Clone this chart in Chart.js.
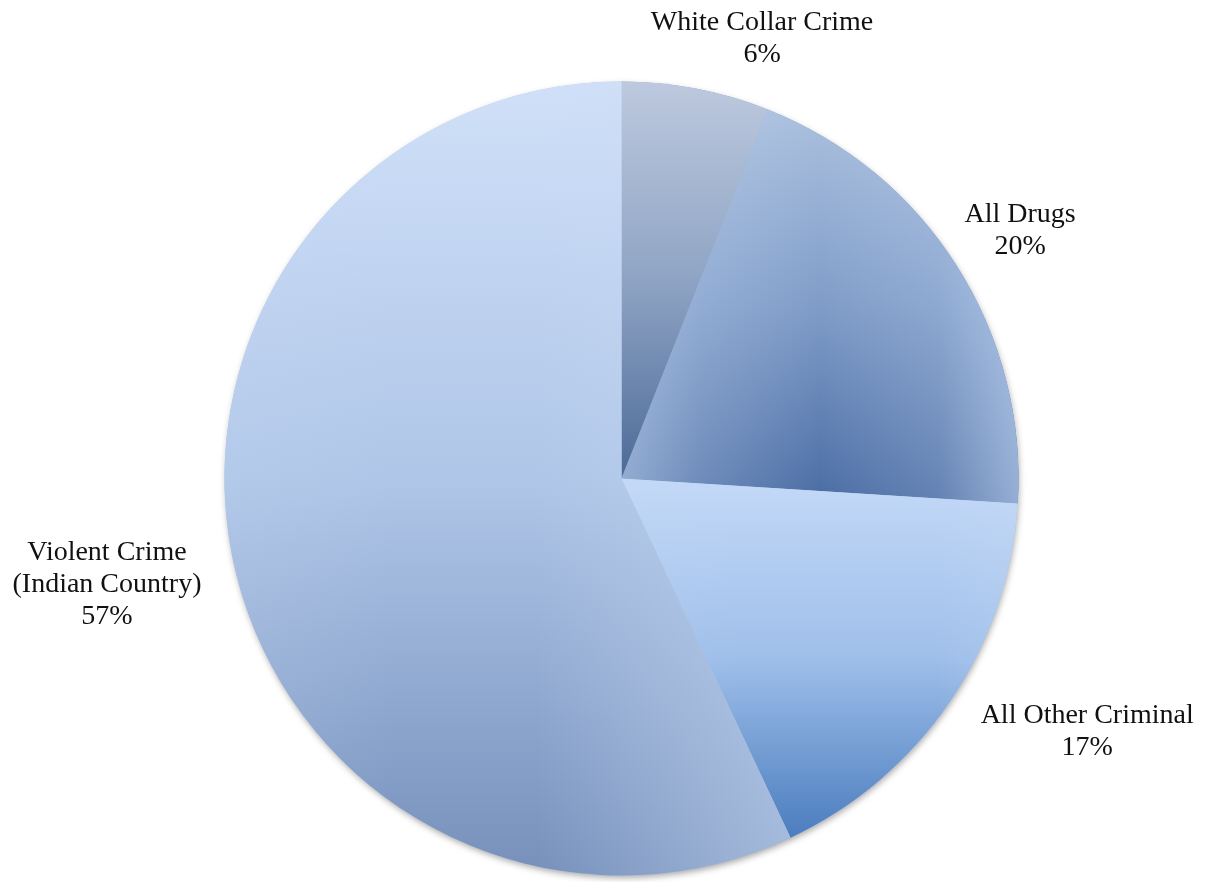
<!DOCTYPE html>
<html>
<head>
<meta charset="utf-8">
<script src="https://cdn.jsdelivr.net/npm/chart.js@4/dist/chart.umd.min.js"></script>
<style>
  html, body { margin: 0; padding: 0; background: #ffffff; }
  #wrap { width: 1206px; height: 882px; position: relative; }
</style>
</head>
<body>
<div id="wrap"><canvas id="pie" width="1206" height="882"></canvas></div>
<script>
// Caseload by program category (share of total, %)
const categories = ['White Collar Crime', 'All Drugs', 'All Other Criminal', 'Violent Crime (Indian Country)'];
const labelLines = [['White Collar Crime'], ['All Drugs'], ['All Other Criminal'], ['Violent Crime', '(Indian Country)']];
const shares = [6, 20, 17, 57];

// Flat fallback colours, one per slice
const baseColors = ['#8fa4c3', '#7f9cc8', '#9fbfea', '#afc6e8'];

// Per-slice shading: vertical colour ramp across the slice's bounding box,
// plus a horizontal light-blue sheen (alpha stops) across the same box.
const shading = [
  { v: [[0, '#bdc9de'], [0.5, '#8fa4c4'], [1, '#4c6a97']], h: [[0, 0], [1, 0]] },
  { v: [[0, '#abc0de'], [0.5, '#7f9cc8'], [1, '#4a6ca3']], h: [[0, 0.55], [0.2, 0.25], [0.5, 0], [0.8, 0.2], [1, 0.6]] },
  { v: [[0, '#c3d9f7'], [0.5, '#9fbfea'], [1, '#4b7dbe']], h: [[0, 0.1], [0.3, 0], [0.8, 0], [1, 0.25]] },
  { v: [[0, '#d0e0f8'], [0.5, '#afc6e8'], [1, '#7690bb']], h: [[0, 0.18], [0.3, 0], [0.55, 0], [1, 0.55]] }
];
const sheenRGB = '200,218,244';

// Label block anchors, in units of the pie radius from its centre (first baseline)
const labelAnchors = [[0.354, -1.130], [1.004, -0.646], [1.173, 0.616], [-1.296, 0.205]];
const labelFont = '28px "Liberation Serif", "Times New Roman", serif';
const lineGap = 32;

function arcBox(x, y, r, a0, a1) {
  const xs = [x, x + r * Math.cos(a0), x + r * Math.cos(a1)];
  const ys = [y, y + r * Math.sin(a0), y + r * Math.sin(a1)];
  const k0 = Math.ceil(a0 / (Math.PI / 2));
  for (let k = k0; k * Math.PI / 2 < a1; k++) {
    const a = k * Math.PI / 2;
    xs.push(x + r * Math.cos(a));
    ys.push(y + r * Math.sin(a));
  }
  return { x0: Math.min(...xs), x1: Math.max(...xs), y0: Math.min(...ys), y1: Math.max(...ys) };
}

const shadePlugin = {
  id: 'shade',
  beforeDatasetDraw(chart) {
    const arcs = chart.getDatasetMeta(0).data;
    if (!arcs.length) return;
    const { x, y, outerRadius } = arcs[0].getProps(['x', 'y', 'outerRadius'], true);
    const ctx = chart.ctx;
    ctx.save();
    ctx.shadowColor = 'rgba(0,0,0,0.38)';
    ctx.shadowBlur = 7;
    ctx.shadowOffsetX = 1;
    ctx.shadowOffsetY = 3;
    ctx.fillStyle = '#ffffff';
    ctx.beginPath();
    ctx.arc(x, y, outerRadius - 1, 0, Math.PI * 2);
    ctx.fill();
    ctx.restore();
  },
  afterDatasetDraw(chart) {
    const ctx = chart.ctx;
    chart.getDatasetMeta(0).data.forEach((arc, i) => {
      const p = arc.getProps(['x', 'y', 'startAngle', 'endAngle', 'outerRadius'], true);
      const b = arcBox(p.x, p.y, p.outerRadius, p.startAngle, p.endAngle);
      const s = shading[i];
      ctx.save();
      ctx.beginPath();
      ctx.moveTo(p.x, p.y);
      ctx.arc(p.x, p.y, p.outerRadius, p.startAngle, p.endAngle);
      ctx.closePath();
      const gv = ctx.createLinearGradient(0, b.y0, 0, b.y1);
      s.v.forEach(([o, c]) => gv.addColorStop(o, c));
      ctx.fillStyle = gv;
      ctx.fill();
      const gh = ctx.createLinearGradient(b.x0, 0, b.x1, 0);
      s.h.forEach(([o, a]) => gh.addColorStop(o, 'rgba(' + sheenRGB + ',' + a + ')'));
      ctx.fillStyle = gh;
      ctx.fill();
      ctx.restore();
    });
  }
};

const labelPlugin = {
  id: 'sliceLabels',
  afterDraw(chart) {
    const arcs = chart.getDatasetMeta(0).data;
    if (!arcs.length) return;
    const { x, y, outerRadius } = arcs[0].getProps(['x', 'y', 'outerRadius'], true);
    const values = chart.data.datasets[0].data;
    const total = values.reduce((a, v) => a + v, 0);
    const ctx = chart.ctx;
    ctx.save();
    ctx.font = labelFont;
    ctx.fillStyle = '#111111';
    ctx.textAlign = 'center';
    ctx.textBaseline = 'alphabetic';
    values.forEach((v, i) => {
      const lines = labelLines[i].concat([Math.round(v / total * 100) + '%']);
      const lx = x + labelAnchors[i][0] * outerRadius;
      const ly = y + labelAnchors[i][1] * outerRadius;
      lines.forEach((t, j) => ctx.fillText(t, lx, ly + j * lineGap));
    });
    ctx.restore();
  }
};

new Chart(document.getElementById('pie').getContext('2d'), {
  type: 'pie',
  data: {
    labels: categories,
    datasets: [{
      data: shares,
      backgroundColor: baseColors,
      borderWidth: 0,
      radius: 397
    }]
  },
  options: {
    responsive: false,
    animation: false,
    layout: { padding: { left: 37, right: 0, top: 75, bottom: 0 } },
    plugins: {
      legend: { display: false },
      tooltip: { enabled: false }
    }
  },
  plugins: [shadePlugin, labelPlugin]
});
</script>
</body>
</html>
